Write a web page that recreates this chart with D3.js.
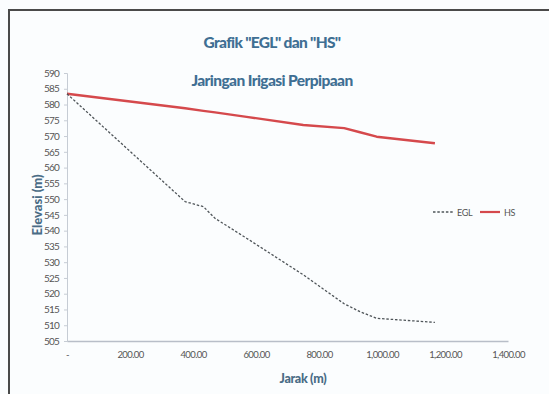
<!DOCTYPE html>
<html>
<head>
<meta charset="utf-8">
<script src="https://cdn.jsdelivr.net/npm/d3@7"></script>
<style>
  html, body { margin: 0; padding: 0; background: #ffffff; }
  svg { display: block; }
</style>
</head>
<body>
<script>
// Distance along the pipe (m) and the two elevation profiles (m)
const distance = [0, 375, 433, 470, 570, 750, 880, 930, 983, 1168];
const egl = [583.4, 549.2, 547.6, 543.9, 537.6, 526.0, 516.8, 514.3, 512.2, 510.9];
const hs  = [583.4, 578.8, 578.0, 577.5, 576.1, 573.5, 572.5, 571.2, 569.8, 567.7];
const xTicks = [0, 200, 400, 600, 800, 1000, 1200, 1400];
const yTicks = d3.range(505, 591, 5);
const seriesNames = ["EGL", "HS"];

const W = 549, H = 394;
const svg = d3.select("body").append("svg").attr("width", W).attr("height", H);

// page background and frame
svg.append("rect").attr("width", W).attr("height", H).attr("fill", "#fbfdfe");
svg.append("path").attr("d", `M9,${H} V10 H${W}`)
  .attr("fill", "none").attr("stroke", "#4a4a4a").attr("stroke-width", 2);

const x = d3.scaleLinear().domain([0, 1400]).range([67, 508]);
const y = d3.scaleLinear().domain([505, 590]).range([341, 73]);

const labelFont = "Lato, 'Open Sans', sans-serif";
const fmt = d3.format(",.2f");

// y axis
const yAxis = svg.append("g").attr("transform", "translate(67,0)")
  .call(d3.axisLeft(y).tickValues(yTicks).tickSize(3).tickPadding(5).tickFormat(d3.format("d")));
yAxis.select(".domain").attr("stroke", "#c6ccd4").attr("stroke-width", 1);
yAxis.selectAll(".tick line").attr("stroke", "#c6ccd4");
yAxis.selectAll("text").attr("fill", "#555").style("font-family", labelFont)
  .style("font-size", "10px").style("letter-spacing", "-0.8px");

// x axis
const xAxis = svg.append("g").attr("transform", "translate(0,341)")
  .call(d3.axisBottom(x).tickValues(xTicks).tickSize(0).tickPadding(10)
    .tickFormat(d => d === 0 ? "-" : fmt(d)));
xAxis.select(".domain").attr("stroke", "#b8bec8").attr("stroke-width", 1.5);
xAxis.selectAll("text").attr("fill", "#555").style("font-family", labelFont)
  .style("font-size", "9.5px").style("letter-spacing", "-0.6px");

// series lines
const line = d3.line().x((d, i) => x(distance[i])).y(d => y(d));

svg.append("path").datum(hs).attr("d", line)
  .attr("fill", "none").attr("stroke", "#d5494c").attr("stroke-width", 2.4)
  .attr("stroke-linejoin", "round");
svg.append("path").datum(egl).attr("d", line)
  .attr("fill", "none").attr("stroke", "#4f5559").attr("stroke-width", 1.3)
  .attr("stroke-linejoin", "round").attr("stroke-dasharray", "2.5,1.8");

// titles
const titleColor = "#3f6f93";
svg.append("text").attr("x", 272).attr("y", 48).attr("text-anchor", "middle")
  .attr("fill", titleColor).style("font-family", labelFont).style("font-weight", "900")
  .style("font-size", "15.5px").style("letter-spacing", "-0.7px").text('Grafik "EGL" dan "HS"');
svg.append("text").attr("x", 272).attr("y", 86).attr("text-anchor", "middle")
  .attr("fill", titleColor).style("font-family", labelFont).style("font-weight", "900")
  .style("font-size", "15.5px").style("letter-spacing", "-0.6px").text("Jaringan Irigasi Perpipaan");

const axisTitleColor = "#4a6c86";
svg.append("text").attr("transform", "translate(42,205) rotate(-90)")
  .attr("text-anchor", "middle").attr("fill", axisTitleColor)
  .style("font-family", labelFont).style("font-weight", "900").style("font-size", "13px")
  .text("Elevasi (m)");
svg.append("text").attr("x", 303).attr("y", 383).attr("text-anchor", "middle")
  .attr("fill", axisTitleColor).style("font-family", labelFont).style("font-weight", "900")
  .style("font-size", "12.5px").style("letter-spacing", "-0.3px").text("Jarak (m)");

// legend
const legend = svg.append("g").attr("transform", "translate(433,212)");
const legItems = [
  { name: seriesNames[0], x0: 0, stroke: "#4f5559", w: 1.3, dash: "2.5,1.8" },
  { name: seriesNames[1], x0: 47, stroke: "#d5494c", w: 2.2, dash: null }
];
legItems.forEach(it => {
  legend.append("line").attr("x1", it.x0).attr("x2", it.x0 + 20).attr("y1", 0).attr("y2", 0)
    .attr("stroke", it.stroke).attr("stroke-width", it.w).attr("stroke-dasharray", it.dash);
  legend.append("text").attr("x", it.x0 + 24).attr("y", 3.5).attr("fill", "#555")
    .style("font-family", labelFont).style("font-size", "9px").style("letter-spacing", "-0.3px")
    .text(it.name);
});
</script>
</body>
</html>
